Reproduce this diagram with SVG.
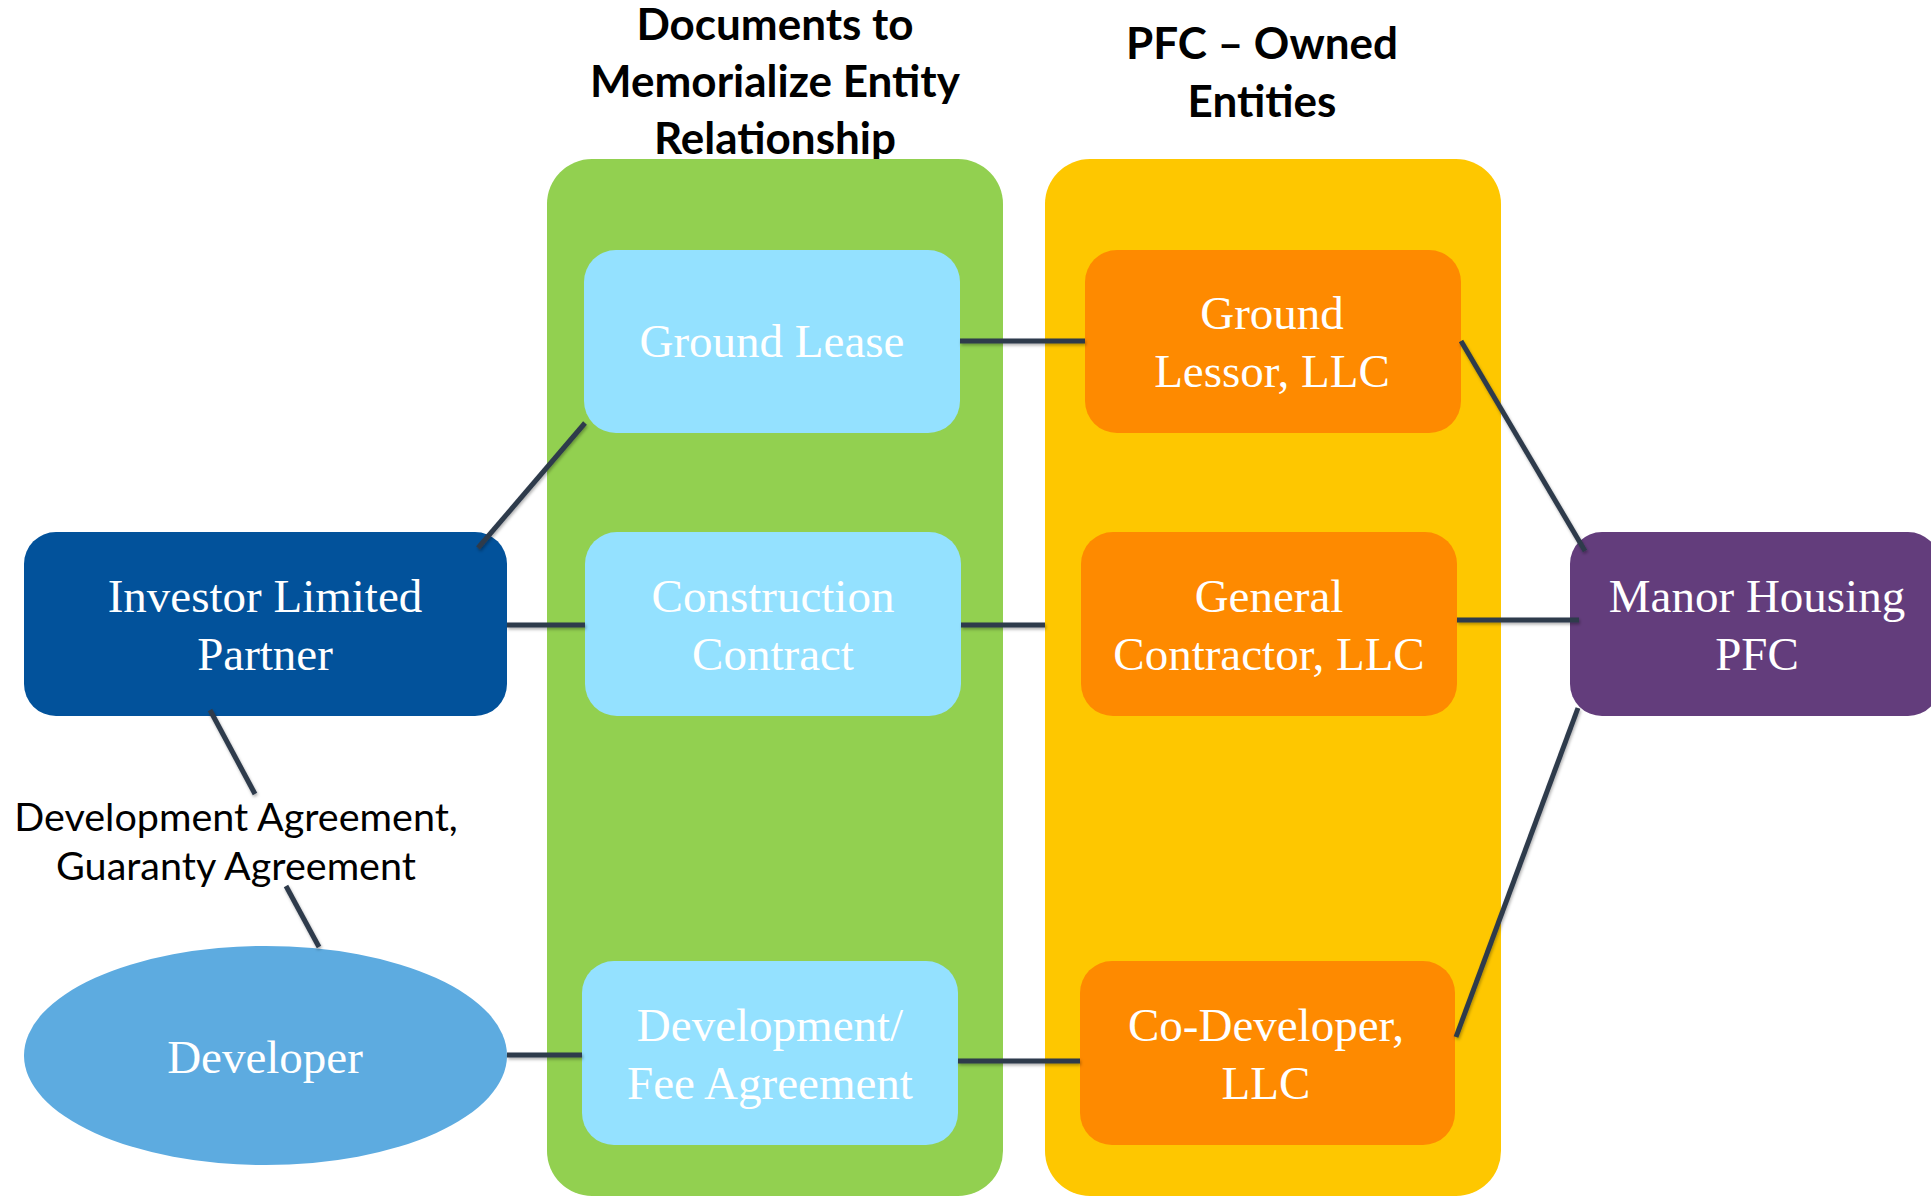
<svg xmlns="http://www.w3.org/2000/svg" width="1931" height="1196" viewBox="0 0 1931 1196">
<defs>
<style>
.title{font-family:Lato,"Open Sans","Liberation Sans",sans-serif;font-weight:bold;font-size:44px;fill:#000;text-anchor:middle}
.lbl{font-family:Lato,"Open Sans","Liberation Sans",sans-serif;font-size:39.5px;fill:#000;text-anchor:middle}
.nt{font-family:"Liberation Serif","Times New Roman",serif;font-size:47px;fill:#fff;text-anchor:middle}
.doc{fill:#94E1FF}
.ent{fill:#FE8A00}
.conn line{stroke:#2F3B4C;stroke-width:5;stroke-linecap:butt}
</style>
<filter id="sh" x="-10%" y="-10%" width="120%" height="120%">
<feDropShadow dx="1" dy="2" stdDeviation="1.5" flood-color="#000" flood-opacity="0.3"/>
</filter>
</defs>
<rect width="1931" height="1196" fill="#fff"/>
<g id="titles">
<text class="title" x="775" y="40">Documents to</text>
<text class="title" x="775" y="97">Memorialize Entity</text>
<text class="title" x="775" y="154">Relationship</text>
<text class="title" x="1262" y="59">PFC – Owned</text>
<text class="title" x="1262" y="117">Entities</text>
</g>
<g id="panel-docs"><rect x="547" y="159" width="456" height="1037" rx="45" fill="#92D050"/></g>
<g id="panel-entities"><rect x="1045" y="159" width="456" height="1037" rx="45" fill="#FEC700"/></g>
<g id="investor">
<rect x="24" y="532" width="483" height="184" rx="32" fill="#02529B"/>
<text class="nt" x="265" y="612">Investor Limited</text>
<text class="nt" x="265" y="670">Partner</text>
</g>
<g id="developer">
<ellipse cx="265.5" cy="1055.5" rx="241.5" ry="109.5" fill="#5DABE0"/>
<text class="nt" x="265" y="1073">Developer</text>
</g>
<g id="dev-label">
<text class="lbl" x="236" y="831">Development Agreement,</text>
<text class="lbl" x="236" y="880">Guaranty Agreement</text>
</g>
<g id="ground-lease">
<rect class="doc" x="584" y="250" width="376" height="183" rx="32"/>
<text class="nt" x="772" y="357">Ground Lease</text>
</g>
<g id="construction-contract">
<rect class="doc" x="585" y="532" width="376" height="184" rx="32"/>
<text class="nt" x="773" y="612">Construction</text>
<text class="nt" x="773" y="670">Contract</text>
</g>
<g id="dev-fee-agreement">
<rect class="doc" x="582" y="961" width="376" height="184" rx="32"/>
<text class="nt" x="770" y="1041">Development/</text>
<text class="nt" x="770" y="1099">Fee Agreement</text>
</g>
<g id="ground-lessor">
<rect class="ent" x="1085" y="250" width="376" height="183" rx="32"/>
<text class="nt" x="1272" y="329">Ground</text>
<text class="nt" x="1272" y="387">Lessor, LLC</text>
</g>
<g id="general-contractor">
<rect class="ent" x="1081" y="532" width="376" height="184" rx="32"/>
<text class="nt" x="1269" y="612">General</text>
<text class="nt" x="1269" y="670">Contractor, LLC</text>
</g>
<g id="co-developer">
<rect class="ent" x="1080" y="961" width="375" height="184" rx="32"/>
<text class="nt" x="1266" y="1041">Co-Developer,</text>
<text class="nt" x="1266" y="1099">LLC</text>
</g>
<g id="manor">
<rect x="1570" y="532" width="370" height="184" rx="32" fill="#633D7C"/>
<text class="nt" x="1757" y="612">Manor Housing</text>
<text class="nt" x="1757" y="670">PFC</text>
</g>
<g id="connectors" class="conn" filter="url(#sh)">
<line x1="478" y1="548" x2="585" y2="423"/>
<line x1="507" y1="625" x2="585" y2="625"/>
<line x1="960" y1="341" x2="1085" y2="341"/>
<line x1="961" y1="625" x2="1045" y2="625"/>
<line x1="507" y1="1055" x2="582" y2="1055"/>
<line x1="958" y1="1061" x2="1080" y2="1061"/>
<line x1="1461" y1="341" x2="1585" y2="551"/>
<line x1="1457" y1="620" x2="1579" y2="620"/>
<line x1="1578" y1="708" x2="1456" y2="1037"/>
<line x1="210" y1="710" x2="255" y2="794"/>
<line x1="286" y1="886" x2="319" y2="947"/>
</g>
</svg>
